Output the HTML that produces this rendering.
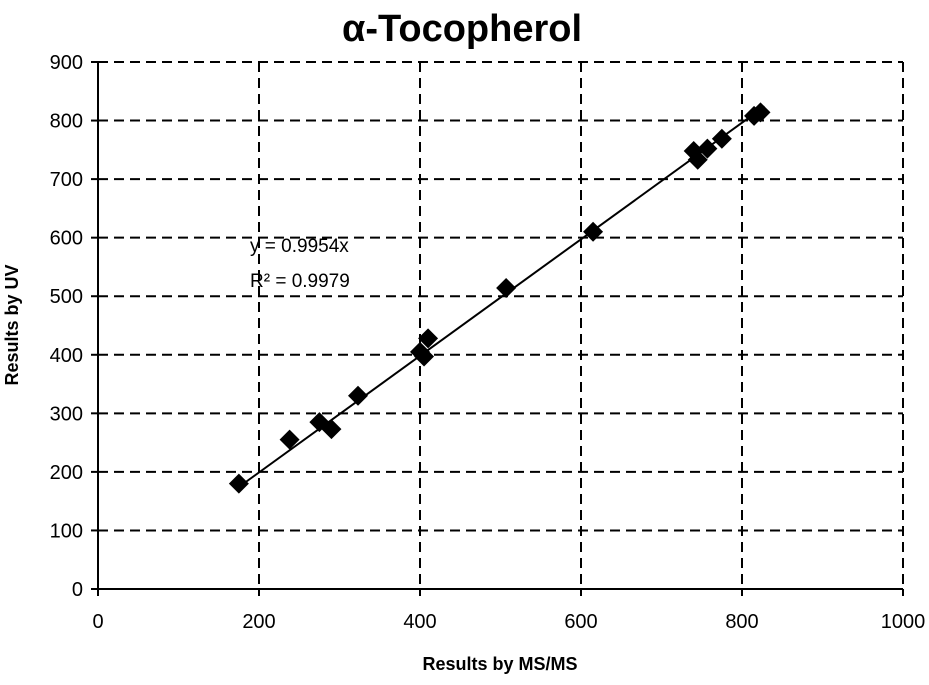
<!DOCTYPE html>
<html><head><meta charset="utf-8"><style>
body{margin:0;background:#fff;}
svg{display:block;font-family:"Liberation Sans",sans-serif;}
</style></head><body>
<svg id="chart" width="929" height="685">
<text x="462" y="41" text-anchor="middle" font-size="38" font-weight="bold">α-Tocopherol</text>
<g id="grid"></g><g id="axes"></g><g id="ticks"></g><g id="marks"></g>
<text x="250" y="252" font-size="19">y = 0.9954x</text>
<text x="250" y="287" font-size="19">R² = 0.9979</text>
<text x="500" y="670" text-anchor="middle" font-size="18" font-weight="bold">Results by MS/MS</text>
<text transform="translate(18,325) rotate(-90)" text-anchor="middle" font-size="18" font-weight="bold">Results by UV</text>
</svg>
<script>
const xTicks=[0,200,400,600,800,1000];
const yTicks=[0,100,200,300,400,500,600,700,800,900];
const msValues=[175,238,275,290,323,400,405,410,507,615,740,745,757,775,815,823];
const uvValues=[180,255,285,273,330,405,397,428,514,610,748,733,752,769,808,814];
const slope=0.9954;
const L=98,R=903,T=62,B=589;
const sx=v=>L+(v-0)/1000*(R-L);
const sy=v=>B-(v-0)/900*(B-T);
const NS="http://www.w3.org/2000/svg";
function mk(tag,attrs,parent){const e=document.createElementNS(NS,tag);for(const k in attrs)e.setAttribute(k,attrs[k]);document.getElementById(parent).appendChild(e);return e;}
xTicks.forEach(t=>{
 if(t>0){const g=mk('line',{x1:sx(t),x2:sx(t),y1:T,y2:B,stroke:'#000','stroke-width':2,'stroke-dasharray':'10,6'},'grid');
 
 }
 const l=mk('text',{x:sx(t),y:B+39,'text-anchor':'middle','font-size':20},'ticks');l.textContent=t;
 
 
});
yTicks.forEach(t=>{
 if(t>0){const g=mk('line',{x1:L,x2:R,y1:sy(t),y2:sy(t),stroke:'#000','stroke-width':2,'stroke-dasharray':'10,6'},'grid');
 
 }
 mk('line',{x1:L-7,x2:L,y1:sy(t),y2:sy(t),stroke:'#000','stroke-width':2},'ticks');
 const l=mk('text',{x:L-15,y:sy(t)+7,'text-anchor':'end','font-size':20},'ticks');l.textContent=t;
 
 
});
xTicks.forEach(t=>{mk('line',{x1:sx(t),x2:sx(t),y1:B,y2:B+7,stroke:'#000','stroke-width':2},'ticks');});
const ax=mk('line',{x1:L,x2:L,y1:T,y2:B,stroke:'#000','stroke-width':2},'axes');


const bx=mk('line',{x1:L,x2:R,y1:B,y2:B,stroke:'#000','stroke-width':2},'axes');


const x0=Math.min(...msValues),x1=Math.max(...msValues);
const tl=mk('line',{x1:sx(x0),y1:sy(slope*x0),x2:sx(x1+5),y2:sy(slope*(x1+5)),stroke:'#000','stroke-width':2},'marks');


msValues.forEach((v,i)=>{
 const cx=sx(v),cy=sy(uvValues[i]),s=10;
 const p=mk('polygon',{points:`${cx},${cy-s} ${cx+s},${cy} ${cx},${cy+s} ${cx-s},${cy}`,fill:'#000'},'marks');
 
 
});
</script>
</body></html>
